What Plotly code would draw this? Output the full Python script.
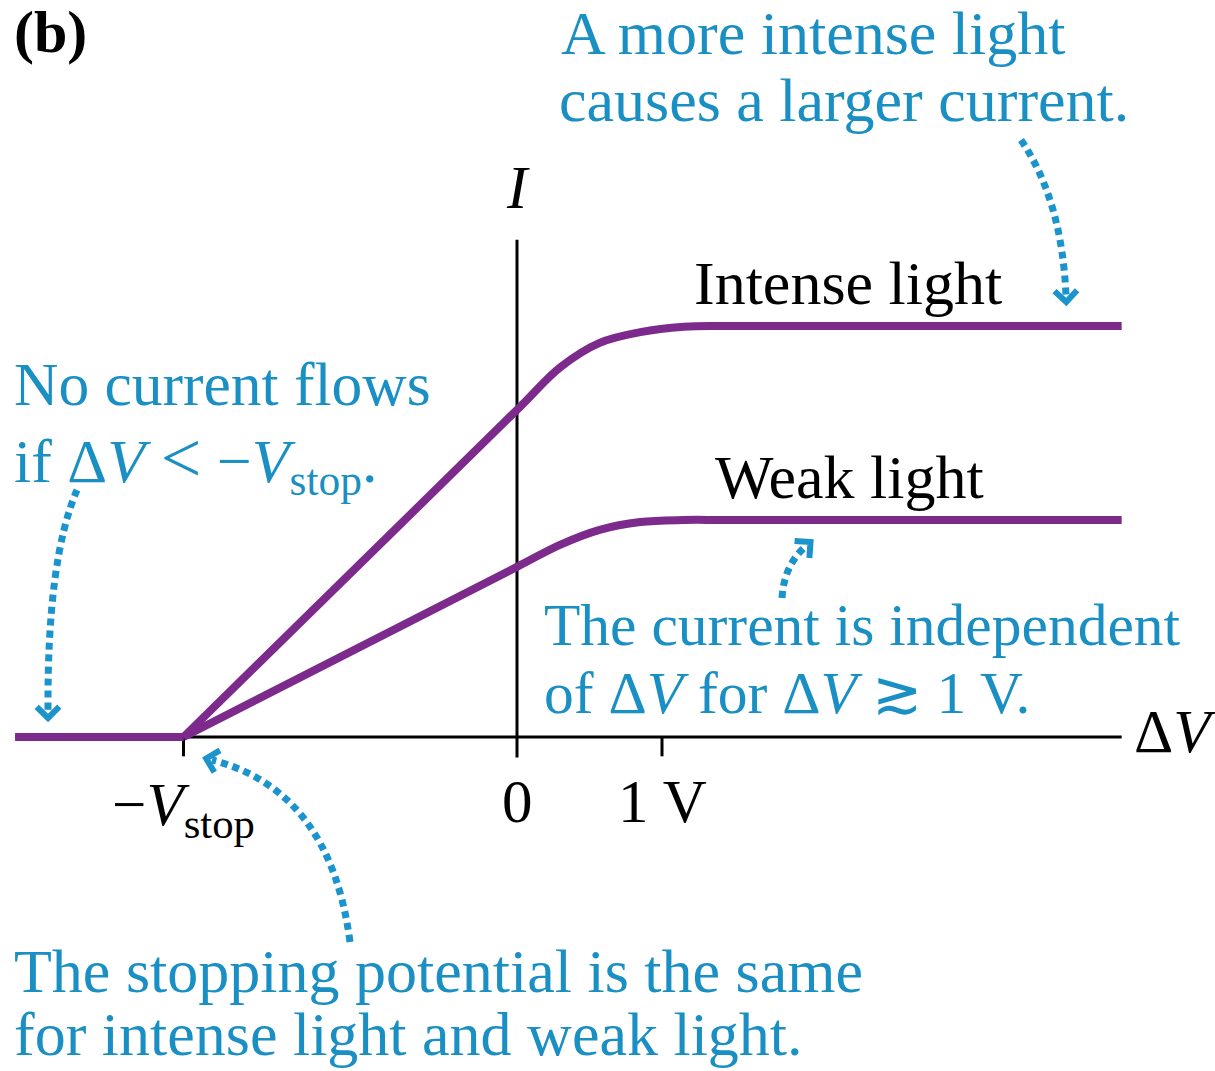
import numpy as np
import plotly.graph_objects as go

# ---- data: photocurrent I versus accelerating voltage ΔV -------------------
V_STOP = 2.3                      # stopping potential, volts

dv_cutoff = [-3.46, -V_STOP]      # below the stopping potential no current flows
i_cutoff = [0.0, 0.0]

dv_rise = [-V_STOP, 0.0, 0.3, 0.57, 0.85, 1.15, 1.45, 4.17]
i_intense = [0.0, 0.796, 0.900, 0.959, 0.985, 0.998, 1.0, 1.0]
i_weak = [0.0, 0.414, 0.468, 0.504, 0.523, 0.528, 0.528, 0.528]

tick_vals = [-V_STOP, 0.0, 1.0]
tick_text = ["\u2212<i>V</i><sub>stop</sub>", "0", "1 V"]

# ---- page geometry ---------------------------------------------------------
W, H = 1215, 1071
X0_PX, PX_PER_V = 517, 145        # where ΔV = 0 sits, and pixels per volt
Y0_PX, PX_PER_I = 737, 411        # where I = 0 sits, and pixels per unit current

PURPLE = "#7d2a8d"
TEAL = "#1a8fc3"
ARROW = "#1b93cc"
FONT = "'Liberation Serif', 'Times New Roman', Times, 'DejaVu Serif', serif"
FS = 61


def px(x):
    return x / W


def py(y):
    return 1 - y / H


fig = go.Figure()

# purple curves: flat cutoff segment plus the rising/saturating part
for ys in (i_intense, i_weak):
    fig.add_trace(go.Scatter(x=dv_cutoff, y=i_cutoff, mode="lines",
                             line=dict(color=PURPLE, width=8), hoverinfo="skip"))
    fig.add_trace(go.Scatter(x=dv_rise, y=ys, mode="lines",
                             line=dict(color=PURPLE, width=8, shape="spline", smoothing=1.0),
                             hoverinfo="skip"))

shapes = []
ax_line = dict(color="black", width=3)
# ΔV axis and I axis
shapes.append(dict(type="line", xref="x", yref="y", x0=dv_cutoff[0], x1=dv_rise[-1],
                   y0=0, y1=0, line=ax_line, layer="below"))
shapes.append(dict(type="line", xref="x", yref="y", x0=0, x1=0, y0=-0.05, y1=1.21,
                   line=ax_line, layer="below"))
# tick marks below the ΔV axis
for tv in tick_vals:
    if tv != 0:
        shapes.append(dict(type="line", xref="x", yref="y", x0=tv, x1=tv, y0=0, y1=-0.047,
                           line=ax_line, layer="below"))


def dotted_arrow(start, ctrl, end, head=16):
    """Curved dotted leader (quadratic Bézier in page pixels) with an open chevron head."""
    path = (f"M {px(start[0])},{py(start[1])} Q {px(ctrl[0])},{py(ctrl[1])} "
            f"{px(end[0])},{py(end[1])}")
    shapes.append(dict(type="path", xref="paper", yref="paper", path=path,
                       line=dict(color=ARROW, width=7, dash="7px,5px")))
    d = np.array(end, float) - np.array(ctrl, float)
    d /= np.linalg.norm(d)
    tip = np.array(end, float) + d * 6
    pts = []
    for ang in (np.pi / 4, -np.pi / 4):
        c, s = np.cos(ang), np.sin(ang)
        r = np.array([c * d[0] - s * d[1], s * d[0] + c * d[1]])
        pts.append(tip - head * r)
    head_path = (f"M {px(pts[0][0])},{py(pts[0][1])} L {px(tip[0])},{py(tip[1])} "
                 f"L {px(pts[1][0])},{py(pts[1][1])}")
    shapes.append(dict(type="path", xref="paper", yref="paper", path=head_path,
                       line=dict(color=ARROW, width=6)))


dotted_arrow((77, 490), (47, 560), (48, 712))
dotted_arrow((350, 942), (330, 790), (212, 760))
dotted_arrow((782, 598), (784, 565), (806, 546))
dotted_arrow((1021, 140), (1062, 200), (1066, 296))

annotations = []


def label(text, x, baseline, color=TEAL, anchor="left", size=FS, shift=0.0):
    yc = baseline - 0.3375 * size + shift
    annotations.append(dict(text=text, xref="paper", yref="paper", x=px(x), y=py(yc),
                            xanchor=anchor, yanchor="middle", showarrow=False,
                            font=dict(family=FONT, size=size, color=color)))


label("<b>(b)</b>", 12, 52, color="black", size=60)
label("A more intense light", 559, 54, size=62)
label("causes a larger current.", 557, 121, size=62)
label("No current flows", 12, 405, size=61.5)
label("if \u0394<i>V</i> <span style='font-size:72px'>&lt;</span> \u2212<i>V</i>"
      "<sub>stop</sub>.", 12, 474, size=62, shift=8)
label("<i>I</i>", 518, 208, color="black", anchor="center")
label("Intense light", 692, 304, color="black", size=62)
label("Weak light", 713, 498, color="black", size=62)
label("The current is independent", 542, 645, size=59.5)
label("of \u0394<i>V</i> for \u0394<i>V</i> \u2273 1 V.", 542, 713, size=59.5)
label("\u0394<i>V</i>", 1132, 752, color="black")
label("The stopping potential is the same", 12, 992, size=62)
label("for intense light and weak light.", 12, 1055, size=62)

# tick labels placed on the ΔV axis values
for tv, tt in zip(tick_vals, tick_text):
    shift = 8 if "sub" in tt else 0
    yc = 822 - 0.3375 * FS + shift
    annotations.append(dict(text=tt, xref="x", yref="paper", x=tv, y=py(yc),
                            xanchor="center", yanchor="middle", showarrow=False,
                            font=dict(family=FONT, size=FS, color="black")))

fig.update_layout(
    width=W, height=H, autosize=False,
    margin=dict(l=0, r=0, t=0, b=0, pad=0),
    paper_bgcolor="white", plot_bgcolor="white",
    font=dict(family=FONT),
    showlegend=False, hovermode=False,
    xaxis=dict(range=[(0 - X0_PX) / PX_PER_V, (W - X0_PX) / PX_PER_V], visible=False,
               fixedrange=True),
    yaxis=dict(range=[(Y0_PX - H) / PX_PER_I, Y0_PX / PX_PER_I], visible=False,
               fixedrange=True),
    shapes=shapes, annotations=annotations,
)

fig.write_html("out.html", config={"displayModeBar": False, "staticPlot": True})
